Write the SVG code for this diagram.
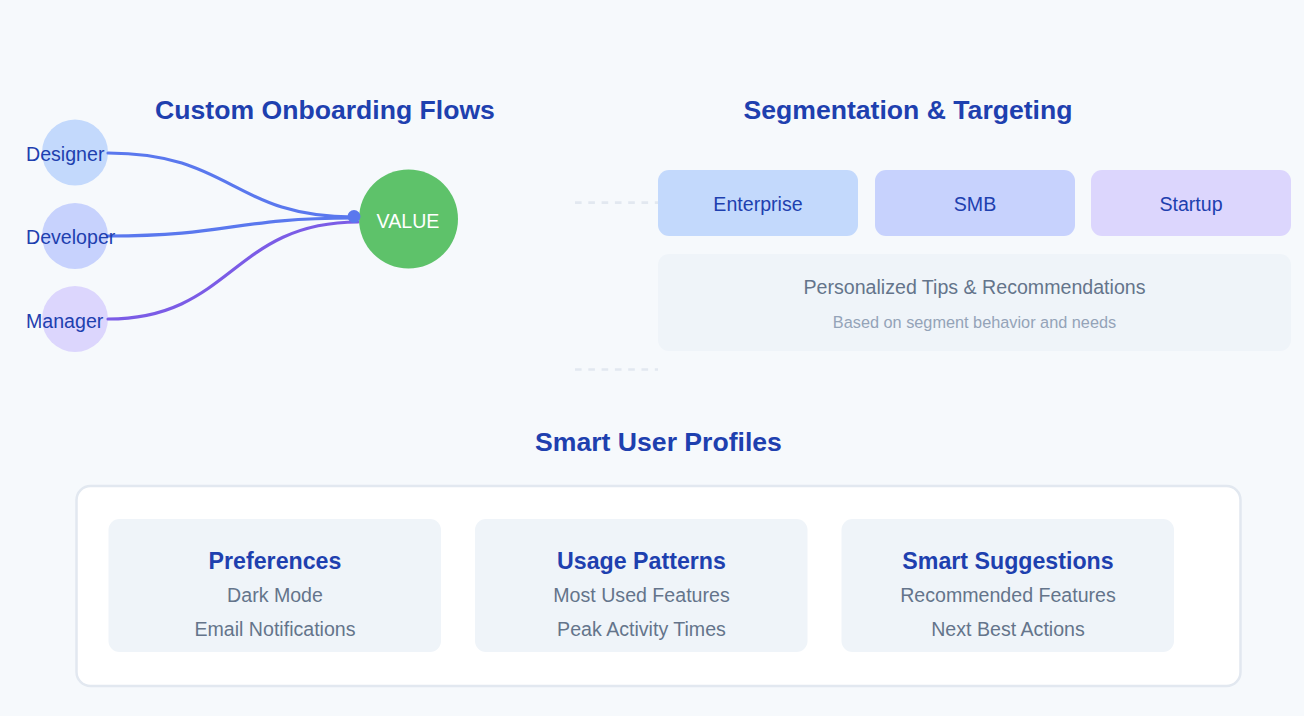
<svg xmlns="http://www.w3.org/2000/svg" width="1304" height="716" viewBox="0 0 1304 716">
<style>
text{font-family:"Liberation Sans",Arial,Helvetica,sans-serif}
.title{font-size:26.6px;font-weight:bold;fill:#1e40af;text-anchor:middle}
.lbl{font-size:19.6px;fill:#1e40af}
.seg{font-size:19.6px;fill:#1e40af;text-anchor:middle}
.ctitle{font-size:23.2px;font-weight:bold;fill:#1e40af;text-anchor:middle}
.item{font-size:19.6px;fill:#64748b;text-anchor:middle}
.sub{font-size:16.3px;fill:#94a3b8;text-anchor:middle}
.card{fill:#eff4f9}
.dash{stroke:#e2e8f0;stroke-width:2.7;stroke-dasharray:6.6 6.7;fill:none}
.flow{fill:none;stroke-width:3.2;stroke-linecap:round}
</style>
<rect width="1304" height="716" fill="#f6f9fc"/>

<text class="title" x="325" y="119">Custom Onboarding Flows</text>
<text class="title" x="908" y="119">Segmentation &amp; Targeting</text>
<text class="title" x="658.5" y="451">Smart User Profiles</text>

<g id="designer"><circle cx="75" cy="152.5" r="33" fill="#c3d9fc"/></g>
<g id="developer"><circle cx="75" cy="236" r="33" fill="#c7d2fd"/></g>
<g id="manager"><circle cx="75" cy="319" r="33" fill="#dcd6fd"/></g>

<g id="connectors">
<path class="flow" stroke="#5a78ee" d="M108,153 C232,153 232,217 354,217"/>
<path class="flow" stroke="#5a78ee" d="M108,236 C232,236 232,218 354,218"/>
<path class="flow" stroke="#7b5ce6" d="M108,319 C232,319 232,222 358,222"/>
<path class="dash" d="M575,202.7 H658"/>
<path class="dash" d="M575,369.5 H658"/>
</g>

<g id="labels">
<text class="lbl" x="26" y="161">Designer</text>
<text class="lbl" x="26" y="244">Developer</text>
<text class="lbl" x="26" y="328">Manager</text>
</g>

<g id="value">
<circle cx="408.5" cy="219" r="49.5" fill="#5ec26a"/>
<circle cx="354" cy="216.5" r="6.5" fill="#5a78ee"/>
<text x="408" y="228" font-size="19.6" fill="#ffffff" text-anchor="middle">VALUE</text>
</g>

<g id="enterprise"><rect x="658" y="170" width="200" height="66" rx="11" fill="#c3d9fc"/><text class="seg" x="758" y="211">Enterprise</text></g>
<g id="smb"><rect x="875" y="170" width="200" height="66" rx="11" fill="#c7d2fd"/><text class="seg" x="975" y="211">SMB</text></g>
<g id="startup"><rect x="1091" y="170" width="200" height="66" rx="11" fill="#dcd6fd"/><text class="seg" x="1191" y="211">Startup</text></g>

<g id="tips">
<rect x="658" y="254" width="633" height="97" rx="11" fill="#eff4f9"/>
<text x="974.5" y="294" font-size="19.6" fill="#64748b" text-anchor="middle">Personalized Tips &amp; Recommendations</text>
<text class="sub" x="974.5" y="328">Based on segment behavior and needs</text>
</g>

<g id="profiles">
<rect x="76.5" y="486" width="1164" height="200" rx="14" fill="#ffffff" stroke="#e2e8f0" stroke-width="2.5"/>
</g>
<g id="preferences">
<rect class="card" x="108.5" y="519" width="332.5" height="133" rx="11"/>
<text class="ctitle" x="275" y="569">Preferences</text>
<text class="item" x="275" y="602">Dark Mode</text>
<text class="item" x="275" y="636">Email Notifications</text>
</g>
<g id="usage">
<rect class="card" x="475" y="519" width="332.5" height="133" rx="11"/>
<text class="ctitle" x="641.5" y="569">Usage Patterns</text>
<text class="item" x="641.5" y="602">Most Used Features</text>
<text class="item" x="641.5" y="636">Peak Activity Times</text>
</g>
<g id="suggestions">
<rect class="card" x="841.5" y="519" width="332.5" height="133" rx="11"/>
<text class="ctitle" x="1008" y="569">Smart Suggestions</text>
<text class="item" x="1008" y="602">Recommended Features</text>
<text class="item" x="1008" y="636">Next Best Actions</text>
</g>
</svg>
